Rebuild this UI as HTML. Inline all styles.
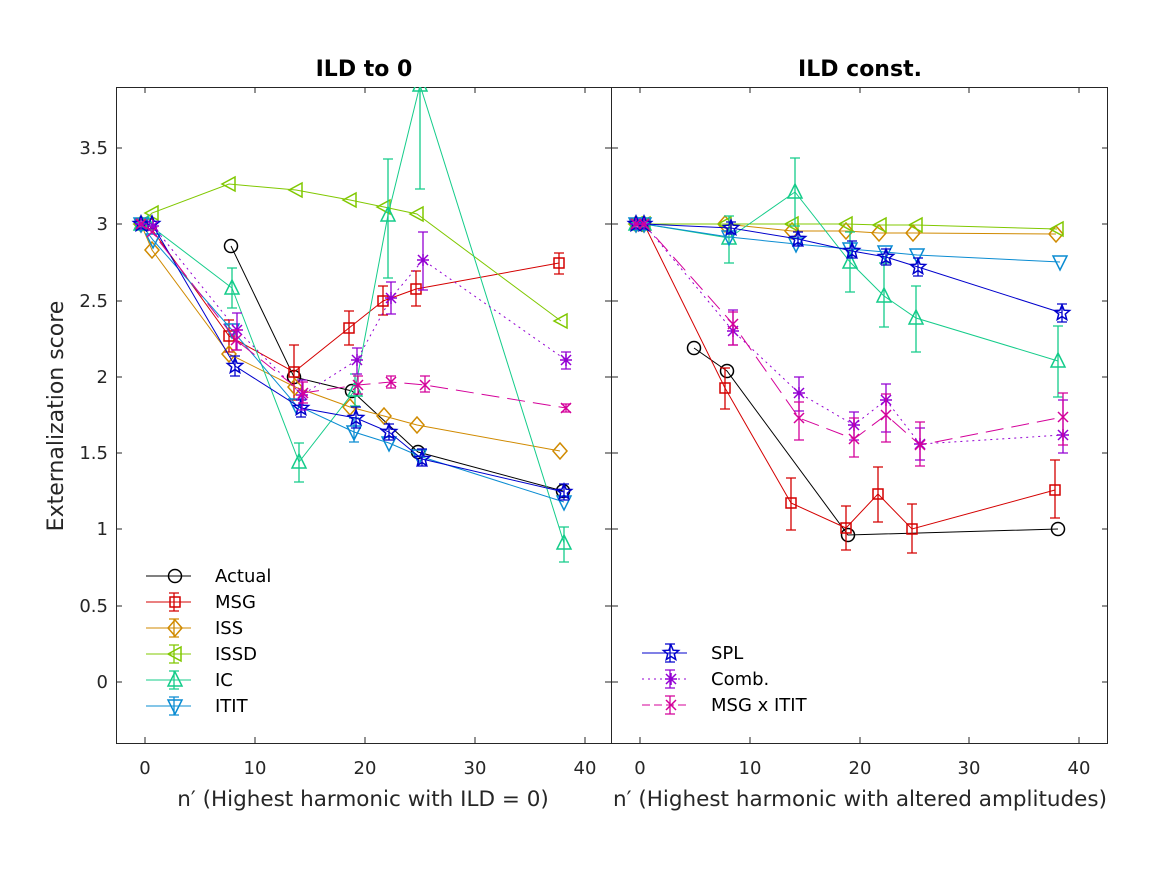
<!DOCTYPE html>
<html><head><meta charset="utf-8"><style>
body{margin:0;background:#fff;}
svg{display:block;font-family:"DejaVu Sans","Liberation Sans",sans-serif;}
</style></head><body>
<svg id="s" width="1167" height="875" xmlns="http://www.w3.org/2000/svg"></svg>
<script>
const s=document.getElementById('s');
let h='';
h+='<rect x="116.5" y="87.5" width="495" height="656" fill="none" stroke="#262626" stroke-width="1"/>';
h+='<rect x="611.5" y="87.5" width="496" height="656" fill="none" stroke="#262626" stroke-width="1"/>';
const yt=[[3.5,148],[3,224],[2.5,301],[2,377],[1.5,453],[1,529],[0.5,606],[0,682]];
yt.forEach(([v,y])=>{
 h+=`<line x1="116" y1="${y}" x2="122" y2="${y}" stroke="#262626"/><line x1="605" y1="${y}" x2="611" y2="${y}" stroke="#262626"/>`;
 h+=`<line x1="612" y1="${y}" x2="618" y2="${y}" stroke="#262626"/><line x1="1102" y1="${y}" x2="1108" y2="${y}" stroke="#262626"/>`;
 h+=`<text x="108" y="${y+6}" font-size="18" text-anchor="end" fill="#262626">${v}</text>`;
});
[[0,145],[10,255],[20,365],[30,475],[40,585]].forEach(([v,x])=>{
 h+=`<line x1="${x}" y1="743" x2="${x}" y2="737" stroke="#262626"/><line x1="${x}" y1="87" x2="${x}" y2="93" stroke="#262626"/>`;
 h+=`<text x="${x}" y="774" font-size="18" text-anchor="middle" fill="#262626">${v}</text>`;
});
[[0,640],[10,750],[20,860],[30,969],[40,1079]].forEach(([v,x])=>{
 h+=`<line x1="${x}" y1="743" x2="${x}" y2="737" stroke="#262626"/><line x1="${x}" y1="87" x2="${x}" y2="93" stroke="#262626"/>`;
 h+=`<text x="${x}" y="774" font-size="18" text-anchor="middle" fill="#262626">${v}</text>`;
});
h+='<text x="364" y="76" font-size="22" font-weight="bold" text-anchor="middle">ILD to 0</text>';
h+='<text x="860" y="76" font-size="22" font-weight="bold" text-anchor="middle">ILD const.</text>';
h+='<text transform="translate(63,416) rotate(-90)" font-size="22" text-anchor="middle" fill="#262626">Externalization score</text>';
h+='<text x="363" y="806" font-size="21.5" text-anchor="middle" fill="#262626">n&#8242; (Highest harmonic with ILD = 0)</text>';
h+='<text x="860" y="806" font-size="21.5" text-anchor="middle" fill="#262626">n&#8242; (Highest harmonic with altered amplitudes)</text>';

function mk(t,x,y,c){const r=6.5;let o='';
 const st=`fill="none" stroke="${c}" stroke-width="1.5"`;
 if(t=='o')o=`<circle cx="${x}" cy="${y}" r="${r}" ${st}/>`;
 if(t=='s')o=`<rect x="${x-5}" y="${y-5}" width="10" height="10" ${st}/>`;
 if(t=='d')o=`<polygon points="${x},${y-8} ${x+7},${y} ${x},${y+8} ${x-7},${y}" ${st}/>`;
 if(t=='<')o=`<polygon points="${x-7},${y} ${x+6},${y-7} ${x+6},${y+7}" ${st}/>`;
 if(t=='^')o=`<polygon points="${x},${y-8} ${x+7},${y+6} ${x-7},${y+6}" ${st}/>`;
 if(t=='v')o=`<polygon points="${x},${y+8} ${x+7},${y-6} ${x-7},${y-6}" ${st}/>`;
 if(t=='p'){let p=[];for(let i=0;i<10;i++){const a=-Math.PI/2+i*Math.PI/5,rr=i%2?3.5:8;p.push((x+rr*Math.cos(a)).toFixed(1)+','+(y+rr*Math.sin(a)).toFixed(1));}o=`<polygon points="${p.join(' ')}" ${st}/>`;}
 if(t=='*')o=`<path d="M${x-6} ${y}H${x+6}M${x} ${y-6}V${y+6}M${x-5} ${y-5}L${x+5} ${y+5}M${x-5} ${y+5}L${x+5} ${y-5}" ${st}/>`;
 if(t=='x')o=`<path d="M${x-5} ${y-5}L${x+5} ${y+5}M${x-5} ${y+5}L${x+5} ${y-5}" ${st}/>`;
 return o;}
function ser(pts,t,c,dash,clip){
 let o=`<g clip-path="url(#${clip})"><polyline points="${pts.map(p=>p[0]+','+p[1]).join(' ')}" fill="none" stroke="${c}" stroke-width="1" ${dash?`stroke-dasharray="${dash}"`:''}/>`;
 pts.forEach(p=>{ if(p[2]!==undefined){o+=`<path d="M${p[0]} ${p[2]}V${p[3]}M${p[0]-5} ${p[2]}H${p[0]+5}M${p[0]-5} ${p[3]}H${p[0]+5}" stroke="${c}" stroke-width="1.3" fill="none"/>`;}
 o+=mk(t,p[0],p[1],c);});
 return o+'</g>';}
h+='<defs><clipPath id="L"><rect x="116" y="87" width="495" height="656"/></clipPath><clipPath id="R"><rect x="612" y="87" width="496" height="656"/></clipPath></defs>';
const C={A:'#000',M:'#d40000',I:'#d08a00',D:'#80c800',IC:'#14cc8a',T:'#0a8cd2',S:'#0000cc',CB:'#9400d3',X:'#d4009a'};
h+=ser([[231,246],[294,377],[352,391],[418,452],[563,491]],'o',C.A,'','L');
h+=ser([[141,224],[148,224],[229,336,320,352],[294,372,345,400],[349,328,311,345],[383,301,286,315],[416,289,271,306],[559,263,253,274]],'s',C.M,'','L');
h+=ser([[141,224],[152,250],[229,354],[295,387],[350,407],[384,416],[417,425],[560,451]],'d',C.I,'','L');
h+=ser([[141,224],[152,213],[229,184],[296,190],[350,200],[384,207],[417,214],[561,321]],'<',C.D,'','L');
h+=ser([[141,224],[148,224],[232,288,268,308],[299,462,443,482],[355,390,374,406],[388,215,159,278],[420,85,60,189],[564,543,527,562]],'^',C.IC,'','L');
h+=ser([[141,224],[153,240],[232,330],[296,405],[354,432,418,442],[389,443],[419,456],[564,502]],'v',C.T,'','L');
h+=ser([[141,224],[152,224],[235,366,356,376],[301,408,400,417],[356,418,407,428],[389,432,424,440],[422,459,449,466],[564,492,484,500]],'p',C.S,'','L');
h+=ser([[141,224],[153,226],[237,330,313,350],[302,395,380,410],[357,360,348,374],[391,298,282,314],[423,260,232,290],[566,360,352,369]],'*',C.CB,'2 4','L');
h+=ser([[141,224],[152,232],[236,340,330,350],[303,393,382,403],[358,385,376,394],[391,382,376,388],[425,385,376,392],[566,408,404,412]],'x',C.X,'18 8','L');
h+=ser([[694,348],[727,371],[848,535],[1058,529]],'o',C.A,'','R');
h+=ser([[636,224],[644,224],[725,388,368,409],[791,503,478,530],[846,528,506,550],[878,494,467,522],[912,529,504,553],[1055,490,460,518]],'s',C.M,'','R');
h+=ser([[636,224],[644,224],[725,224],[792,231],[846,231],[879,233],[913,233],[1056,234]],'d',C.I,'','R');
h+=ser([[636,224],[644,224],[725,224],[792,224],[846,224],[880,225],[916,225],[1057,229]],'<',C.D,'','R');
h+=ser([[636,224],[644,224],[729,238,216,263],[795,192,158,226],[850,262,232,292],[884,296,263,327],[916,318,286,352],[1058,361,326,397]],'^',C.IC,'','R');
h+=ser([[636,224],[644,224],[729,237],[796,244],[850,249],[885,252],[917,255],[1060,262]],'v',C.T,'','R');
h+=ser([[636,224],[644,224],[731,228,222,234],[798,239,232,246],[852,251,241,258],[886,257,249,265],[918,267,258,276],[1062,313,304,322]],'p',C.S,'','R');
h+=ser([[636,224],[644,224],[733,331,310,345],[799,393,377,411],[854,425,412,440],[886,400,384,432],[920,444,428,460],[1063,435,400,453]],'*',C.CB,'2 4','R');
h+=ser([[636,224],[644,224],[733,324,312,345],[799,418,402,440],[854,439,418,457],[886,415,394,442],[920,445,422,466],[1063,417,393,445]],'x',C.X,'18 8','R');
function leg(x,y,t,c,lab,dash,eb){let o=`<line x1="${x}" y1="${y}" x2="${x+45}" y2="${y}" stroke="${c}" ${dash?`stroke-dasharray="${dash}"`:''}/>`;
 if(eb)o+=`<path d="M${x+28} ${y-9}V${y+9}M${x+23} ${y-9}H${x+33}M${x+23} ${y+9}H${x+33}" stroke="${c}" stroke-width="1.3"/>`;
 o+=mk(t,x+29,y,c)+`<text x="${x+69}" y="${y+6}" font-size="18" fill="#000">${lab}</text>`;return o;}
h+=leg(146,576,'o',C.A,'Actual','',0);
h+=leg(146,602,'s',C.M,'MSG','',1);
h+=leg(146,628,'d',C.I,'ISS','',1);
h+=leg(146,654,'<',C.D,'ISSD','',1);
h+=leg(146,680,'^',C.IC,'IC','',1);
h+=leg(146,706,'v',C.T,'ITIT','',1);
h+=leg(642,653,'p',C.S,'SPL','',1);
h+=leg(642,679,'*',C.CB,'Comb.','2 4',1);
h+=leg(642,705,'x',C.X,'MSG x ITIT','8 4',1);
s.innerHTML=h;
</script>
</body></html>
